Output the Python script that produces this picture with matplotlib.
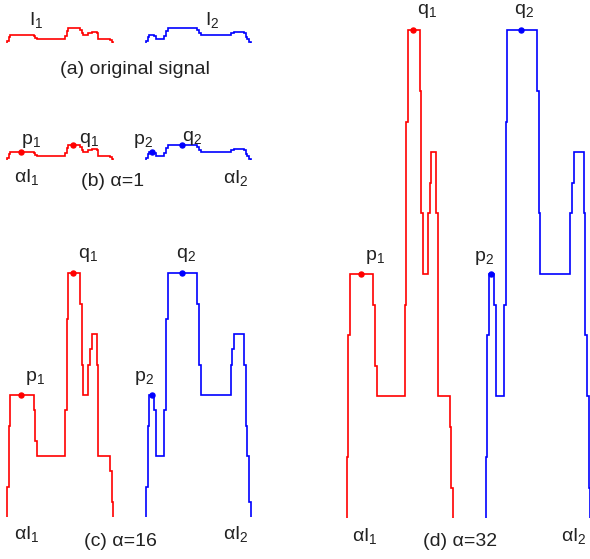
import matplotlib
matplotlib.use('Agg')
import matplotlib.pyplot as plt
import numpy as np

plt.rcParams['font.family'] = ['Liberation Sans', 'DejaVu Sans']
plt.rcParams['mathtext.fontset'] = 'custom'
plt.rcParams['mathtext.rm'] = 'Liberation Sans'
plt.rcParams['mathtext.it'] = 'Liberation Sans'

# original signal levels, one value per sample (alpha = 1)
i1_levels = [1, 3,
             4, 4, 4, 4, 4, 4, 4, 4, 4, 4, 4, 4, 4, 4,
             3.5, 2.5,
             2, 2, 2, 2, 2, 2, 2, 2, 2, 2, 2, 2, 2, 2, 2, 2, 2,
             3.5, 6.5,
             8, 8, 8, 8, 8, 8, 8,
             7, 5,
             4, 4, 4,
             5, 5.5,
             6, 6, 6,
             5,
             2, 2, 2, 2, 2, 2, 2,
             1.5, 0.5]
i2_levels = [1, 3,
             4, 4, 4,
             3.5,
             2, 2, 2, 2, 2,
             3.5, 6.5,
             8, 8, 8, 8, 8, 8, 8, 8, 8, 8, 8, 8, 8, 8, 8, 8, 8, 8,
             7, 5,
             4, 4, 4, 4, 4, 4, 4, 4, 4, 4, 4, 4, 4, 4, 4, 4, 4, 4,
             5, 5.5,
             6, 6, 6, 6, 6, 6,
             5, 3, 2, 0.5]

# sample positions of the marked points
p1_pos, q1_pos = 8.7, 39.7
p2_pos, q2_pos = 3.5, 21.5

W, H = 590, 559
PX_SAMPLE = 1.66    # pixels per sample
PX_LEVEL = 1.906    # pixels per level at alpha = 1
I2_SHIFT = 83.7     # samples between start of I1 and start of I2
RED, BLUE = '#ff0000', '#0000ff'

fig = plt.figure(figsize=(W / 100, H / 100), dpi=100)


def signal_axes(x0, base, alpha, height):
    """axes whose origin sits at pixel (x0, base), scaled by alpha vertically"""
    ax = fig.add_axes([x0 / W, (H - base) / H, 250 / W, height / H])
    ax.set_xlim(0, 250 / PX_SAMPLE)
    ax.set_ylim(0, height / (PX_LEVEL * alpha))
    ax.axis('off')
    ax.patch.set_alpha(0)
    return ax


def draw_signals(ax, markers):
    e1 = np.arange(len(i1_levels) + 1)
    e2 = np.arange(len(i2_levels) + 1) + I2_SHIFT
    ax.stairs(i1_levels, e1, baseline=0, color=RED, lw=1.2, clip_on=False)
    ax.stairs(i2_levels, e2, baseline=0, color=BLUE, lw=1.2, clip_on=False)
    if markers:
        for pos, color, levels, shift in [(p1_pos, RED, i1_levels, 0), (q1_pos, RED, i1_levels, 0),
                                          (p2_pos, BLUE, i2_levels, I2_SHIFT),
                                          (q2_pos, BLUE, i2_levels, I2_SHIFT)]:
            ax.plot(pos + shift, levels[int(pos)], 'o', ms=3.6, color=color, clip_on=False)


def label(s, x, y):
    fig.text(x / W, 1 - y / H, s, ha='center', va='center', fontsize=14, color='#222222')


draw_signals(signal_axes(7, 43, 1, 40), markers=False)
draw_signals(signal_axes(7, 160, 1, 40), markers=True)
draw_signals(signal_axes(7, 517, 16, 300), markers=True)
draw_signals(signal_axes(346.7, 518, 32, 518), markers=True)

# (a)
label('I$_1$', 36, 20)
label('I$_2$', 212, 20)
label('(a) original signal', 135, 69)
# (b)
label('p$_1$', 31, 141)
label('q$_1$', 89, 140)
label('p$_2$', 143, 141)
label('q$_2$', 192, 138)
label('αI$_1$', 27, 177)
label('(b) α=1', 113, 182)
label('αI$_2$', 236, 178)
# (c)
label('p$_1$', 35, 378)
label('q$_1$', 88, 255)
label('p$_2$', 144, 378)
label('q$_2$', 186, 255)
label('αI$_1$', 27, 534)
label('(c) α=16', 120, 541)
label('αI$_2$', 236, 534)
# (d)
label('p$_1$', 375, 257)
label('q$_1$', 427, 11)
label('p$_2$', 484, 258)
label('q$_2$', 524, 11)
label('αI$_1$', 365, 536)
label('(d) α=32', 460, 542)
label('αI$_2$', 574, 536)

fig.savefig('out.png', dpi=100)
